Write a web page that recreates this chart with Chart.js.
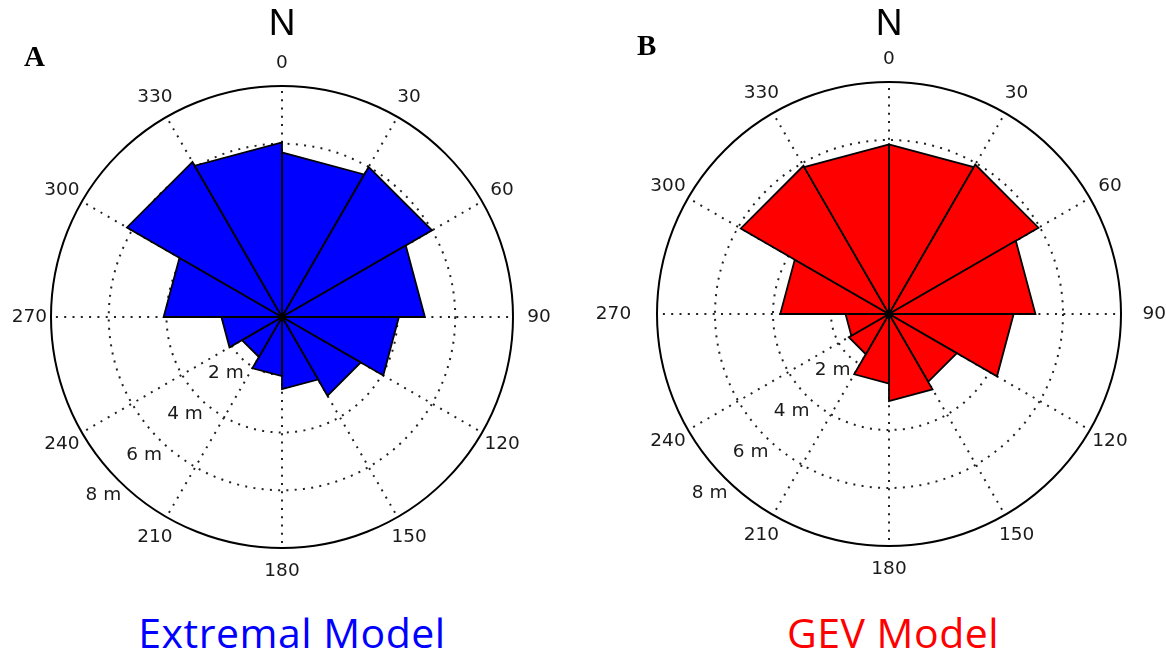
<!DOCTYPE html>
<html>
<head>
<meta charset="utf-8">
<script src="https://cdn.jsdelivr.net/npm/chart.js@4.4.1/dist/chart.umd.min.js"></script>
<style>
  html, body { margin: 0; padding: 0; background: #fff; }
  #page { position: relative; width: 1166px; height: 653px; overflow: hidden; }
  canvas { position: absolute; top: 0; }
  .north { position: absolute; top: 1px; width: 60px; text-align: center;
           font: 37px "Liberation Sans", Arial, sans-serif; color: #000; line-height: 44px; }
  .panel { position: absolute; font: bold 29px "Liberation Serif", "Times New Roman", serif; color: #000; }
  .model { position: absolute; top: 606px; width: 400px; text-align: center;
           font: 41px "Open Sans", sans-serif; letter-spacing: 0.5px; line-height: 52px; }
</style>
</head>
<body>
<div id="page">
  <canvas id="roseA" width="583" height="600" style="left:0"></canvas>
  <canvas id="roseB" width="583" height="600" style="left:583px"></canvas>
  <div class="north" style="left:252px">N</div>
  <div class="north" style="left:859px">N</div>
  <div class="panel" style="left:24px; top:40px">A</div>
  <div class="panel" style="left:637px; top:29px">B</div>
  <div class="model" style="left:92px; color:#0000ff">Extremal Model</div>
  <div class="model" style="left:693px; color:#ff0000">GEV Model</div>
</div>
<script>
// direction bins (degrees clockwise from north), 30 degree wide
const directions = ['0', '30', '60', '90', '120', '150', '180', '210', '240', '270', '300', '330'];
// wave height per direction bin, metres
const extremalHeights = [5.7, 6.0, 4.95, 4.05, 3.15, 2.5, 2.05, 1.6, 2.1, 4.1, 6.2, 6.05];
const gevHeights = [5.85, 5.95, 5.05, 4.3, 2.7, 3.0, 2.4, 1.6, 1.5, 3.75, 5.9, 5.85];
// radial rings
const ringTicks = [2, 4, 6, 8];

/* rose sectors are drawn as flat triangles (centre + two corners) */
class RoseArc extends Chart.ArcElement {
  draw(ctx) {
    const {x, y, startAngle, endAngle, outerRadius} =
      this.getProps(['x', 'y', 'startAngle', 'endAngle', 'outerRadius']);
    const o = this.options;
    ctx.save();
    ctx.beginPath();
    ctx.moveTo(x, y);
    ctx.lineTo(x + Math.cos(startAngle) * outerRadius, y + Math.sin(startAngle) * outerRadius);
    ctx.lineTo(x + Math.cos(endAngle) * outerRadius, y + Math.sin(endAngle) * outerRadius);
    ctx.closePath();
    ctx.fillStyle = o.backgroundColor;
    ctx.fill();
    ctx.lineWidth = o.borderWidth;
    ctx.strokeStyle = o.borderColor;
    ctx.lineJoin = 'miter';
    ctx.stroke();
    ctx.restore();
  }
}
RoseArc.id = 'roseArc';
RoseArc.defaults = {...Chart.ArcElement.defaults};
RoseArc.defaultRoutes = Chart.ArcElement.defaultRoutes;

class RoseController extends Chart.PolarAreaController {}
RoseController.id = 'rose';
RoseController.defaults = {...Chart.PolarAreaController.defaults, dataElementType: 'roseArc'};
RoseController.overrides = Chart.PolarAreaController.overrides;

Chart.register(RoseArc, RoseController);

// compass labels, ring labels and the centre dot
const roseLabels = {
  id: 'roseLabels',
  afterDraw(chart, args, opts) {
    const r = chart.scales.r;
    const ctx = chart.ctx;
    ctx.save();
    ctx.font = '18.5px "DejaVu Sans", sans-serif';
    ctx.fillStyle = '#1a1a1a';
    ctx.textAlign = 'center';
    ctx.textBaseline = 'middle';
    directions.forEach((lbl, i) => {
      let dist = opts.radius;
      if (lbl === '90') dist = opts.east;
      if (lbl === '270') dist = opts.west;
      const p = r.getPointPositionForValue(i, dist);
      ctx.fillText(lbl, p.x, p.y);
    });
    ringTicks.forEach(v => {
      const p = r.getPointPositionForValue(7.5, v + 0.75);
      ctx.fillText(v + ' m', p.x, p.y);
    });
    ctx.beginPath();
    ctx.arc(r.xCenter, r.yCenter, 4, 0, Math.PI * 2);
    ctx.fillStyle = '#000';
    ctx.fill();
    ctx.restore();
  }
};

function criarRosa(id, valores, cor, padding, rotulos) {
  return new Chart(document.getElementById(id), {
    type: 'rose',
    data: {
      labels: directions,
      datasets: [{
        data: valores,
        backgroundColor: cor,
        borderColor: '#000',
        borderWidth: 1.8
      }]
    },
    options: {
      responsive: false,
      animation: false,
      layout: { padding },
      plugins: {
        legend: { display: false },
        tooltip: { enabled: false },
        roseLabels: rotulos
      },
      scales: {
        r: {
          min: 0,
          max: 8,
          startAngle: 0,
          ticks: { display: false, stepSize: 2 },
          pointLabels: { display: false },
          grid: {
            circular: true,
            color: c => c.tick.value === 8 ? '#000' : '#222',
            lineWidth: 2
          },
          border: { dash: c => c.tick.value === 8 ? [] : [2, 6.3] },
          angleLines: { display: true, color: '#222', lineWidth: 2, borderDash: [2, 6.3] }
        }
      }
    },
    plugins: [roseLabels]
  });
}

document.addEventListener('DOMContentLoaded', () => {
  criarRosa('roseA', extremalHeights, '#0000ff',
    { left: 51, top: 86, right: 70, bottom: 52 },
    { radius: 8.8, east: 8.9, west: 8.75 });
  criarRosa('roseB', gevHeights, '#ff0000',
    { left: 74, top: 82, right: 45, bottom: 54 },
    { radius: 8.8, east: 9.15, west: 9.5 });
});
</script>
</body>
</html>
